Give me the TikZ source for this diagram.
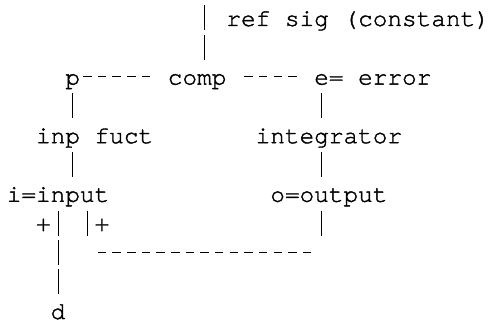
\documentclass[tikz,border=0pt]{standalone}
\usepackage{fontspec}
\newfontfamily\asciiface[FakeBold=1.5]{TeX Gyre Cursor}
\newcommand\asciifont{\asciiface\fontsize{24.4}{29.3}\selectfont}
\begin{document}
\begin{tikzpicture}[x=14.64pt,y=-29.3pt,
    txt/.style={font=\asciifont,anchor=base west,inner sep=0pt,outer sep=0pt,text height=20.5pt,text depth=4.5pt},
    vbar/.style={line width=1pt,dash pattern=on 25pt off 4.3pt,shorten <=4.3pt,shorten >=4.3pt},
    hbar/.style={line width=1.1pt,dash pattern=on 8.5pt off 6.14pt}]
    \useasboundingbox (-0.4645,0.1126) rectangle (33.0055,11.068);
    \node[txt] (ref) at (15,1) {ref sig (constant)};
    \node[txt] (p) at (4,3) {p};
    \node[txt] (comp) at (11,3) {comp};
    \node[txt] (err) at (21,3) {e= error};
    \node[txt] (inp) at (2,5) {inp fuct};
    \node[txt] (integ) at (17,5) {integrator};
    \node[txt] (in) at (0,7) {i=input};
    \node[txt] (out) at (18,7) {o=output};
    \node[txt] (plusL) at (2,8) {+};
    \node[txt] (plusR) at (6,8) {+};
    \node[txt,text depth=0.5pt] (d) at (3,11) {d};
    \coordinate (sigtop) at (13.5,0.3003);
    \coordinate (colE) at ([xshift=7.32pt]err.south west);
    \coordinate (colR) at ([xshift=-7.32pt]plusR.south west);
    \coordinate (fbL) at (6.218,8.727);
    \coordinate (fbR) at (20.799,8.727);
    % reference in
    \draw[vbar,shorten <=0pt] (sigtop) -- (sigtop |- comp.north);
    % p ---- comp ---- e
    \draw[hbar,shorten <=3.2pt,shorten >=17.6pt] (p.east) -- (comp.west);
    \draw[hbar,shorten <=17.84pt,shorten >=17.6pt] (comp.east) -- (err.west);
    % left column
    \draw[vbar] (p.south) -- (p.south |- inp.north);
    \draw[vbar] (p.south |- inp.south) -- (p.south |- in.north);
    \draw[vbar] (in.south) -- (d.north);
    % right column
    \draw[vbar] (colE) -- (colE |- integ.north);
    \draw[vbar] (colE |- integ.south) -- (colE |- out.north);
    % feedback
    \draw[vbar,shorten >=0pt] (colE |- out.south) -- (colE |- plusR.south);
    \draw[hbar] (fbL) -- (fbR);
    \draw[vbar,shorten >=0pt] (colR |- in.south) -- (colR);
\end{tikzpicture}
\end{document}
